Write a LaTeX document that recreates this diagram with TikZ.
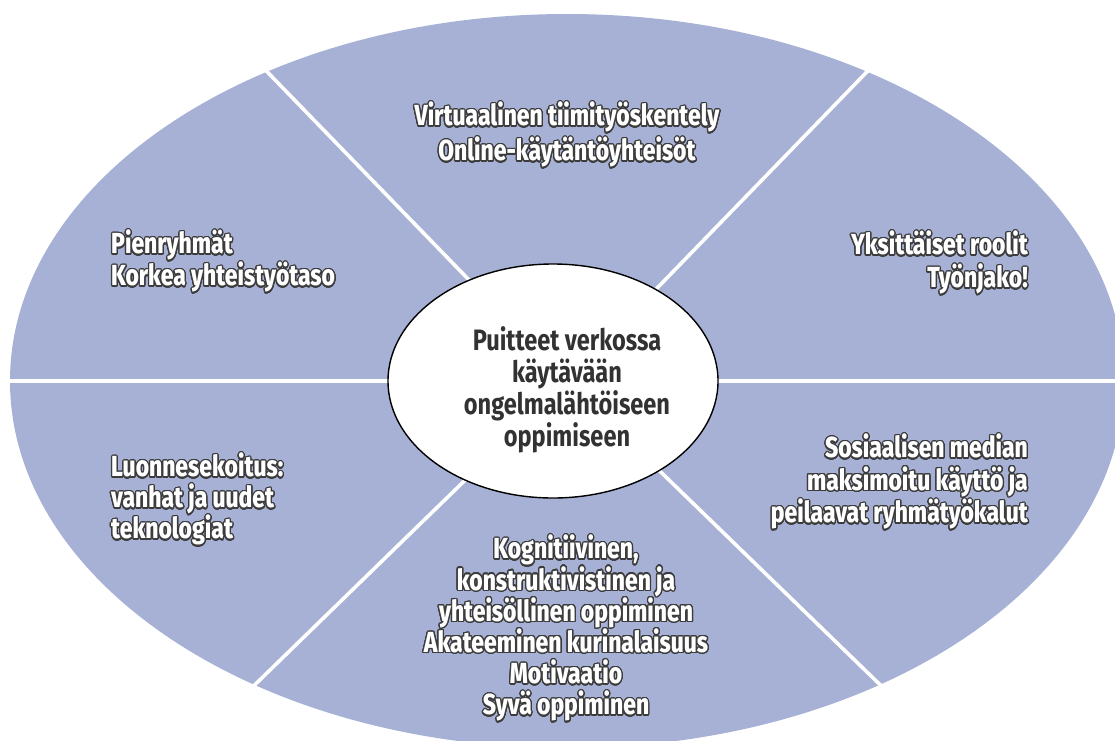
\documentclass[tikz,border=0pt]{standalone}
\usepackage{fontspec}
\usepackage{contour}
\usetikzlibrary{shapes.geometric}
\newfontfamily\lblfont{Fira Sans ExtraBold}[FakeStretch=0.79]
\newfontfamily\hubfont{Fira Sans}[FakeStretch=0.80]
\contourlength{1.25pt}
\contournumber{24}

\definecolor{fieldblue}{RGB}{166,177,213}
\definecolor{hubtext}{RGB}{50,50,50}
\definecolor{rim}{RGB}{60,60,60}

% fixed line pitch, whatever the glyphs in a line
\newcommand\tightlines{\lineskiplimit-40pt\relax}
% white lettering with a dark rim
\newcommand\ol[1]{\contour{rim}{#1}}

\tikzset{
  field/.style={fill=fieldblue},
  spoke/.style={draw=white, line width=3.6pt},
  hub/.style={draw=black, line width=1.4pt, fill=white},
  lbl/.style={font={\lblfont\fontsize{29}{#1}\selectfont\tightlines}, text=white, inner sep=0pt},
  hubtxt/.style={font={\hubfont\fontsize{29.5}{32}\selectfont\bfseries\tightlines}, text=hubtext, inner sep=0pt, align=center}
}

\begin{document}
\begin{tikzpicture}[x=1pt,y=-1pt]
\useasboundingbox (0,0) rectangle (1115,740);
\clip (0,0) rectangle (1115,740);

% outer field
\fill[field] (567,381) ellipse [x radius=557pt, y radius=367pt];

% spokes dividing the field into six sectors
\coordinate (c)  at (567,381);
\coordinate (w)  at (0,381);
\coordinate (e)  at (1130,381);
\coordinate (nw) at (247,51);
\coordinate (ne) at (890,48);
\coordinate (sw) at (232,707);
\coordinate (se) at (903,707);
\foreach \p in {w,e,nw,ne,sw,se} \draw[spoke] (c) -- (\p);

% central hub
\node[hub, ellipse, minimum width=330pt, minimum height=234pt, inner sep=0pt] (hubshape) at (553,381) {};
\node[hubtxt, anchor=north] (hubtext) at (567,326)
  {Puitteet verkossa\\käytävään\\ongelmalähtöiseen\\oppimiseen};

% sector labels
\node[lbl=35, align=center, anchor=north] (virt) at (567,102)
  {\ol{Virtuaalinen tiimityöskentely}\\\ol{Online-käytäntöyhteisöt}};
\node[lbl=32, align=left, anchor=north west] (pien) at (111,230)
  {\ol{Pienryhmät}\\\ol{Korkea yhteistyötaso}};
\node[lbl=33, align=right, anchor=north east] (yksi) at (1028,231)
  {\ol{Yksittäiset roolit}\\\ol{Työnjako!}};
\node[lbl=31, align=left, anchor=north west] (luon) at (111,453)
  {\ol{Luonnesekoitus:}\\\ol{vanhat ja uudet}\\\ol{teknologiat}};
\node[lbl=32.5, align=right, anchor=north east] (sosi) at (1028,434)
  {\ol{Sosiaalisen median}\\\ol{maksimoitu käyttö ja}\\\ol{peilaavat ryhmätyökalut}};
\node[lbl=31.2, align=center, anchor=north] (kogn) at (566,535)
  {\ol{Kognitiivinen,}\\\ol{konstruktivistinen ja}\\\ol{yhteisöllinen oppiminen}\\\ol{Akateeminen kurinalaisuus}\\\ol{Motivaatio}\\\ol{Syvä oppiminen}};
\end{tikzpicture}
\end{document}
